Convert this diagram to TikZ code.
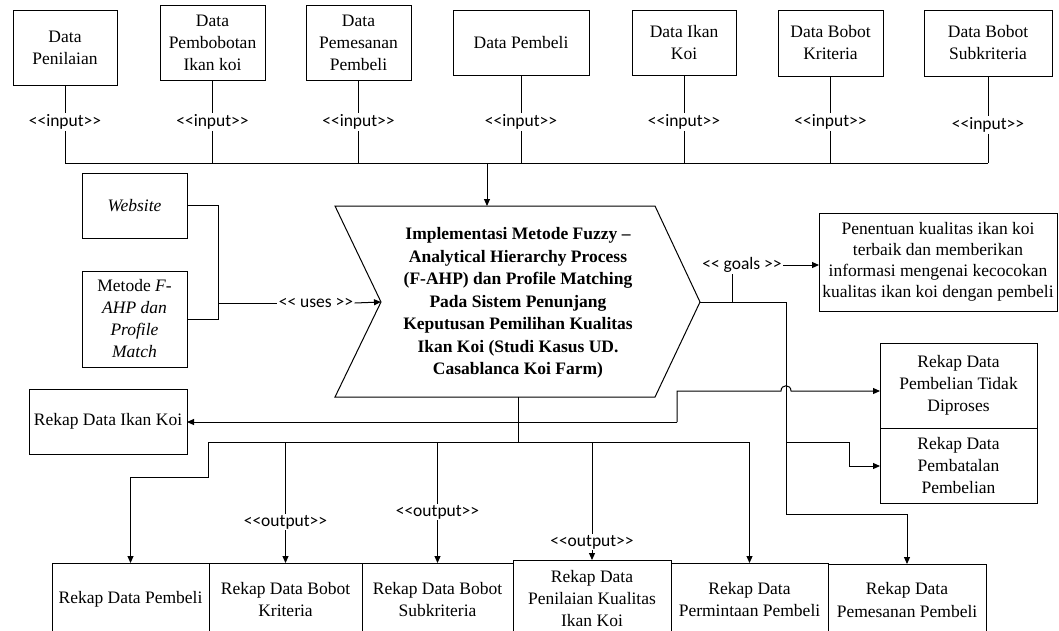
\documentclass[tikz,border=0pt]{standalone}
\usepackage{fontspec}
\setmainfont{Liberation Serif}
\newfontfamily\lblfont{Carlito}
\usetikzlibrary{arrows.meta}
% stereotype label, kerns keep << and >> from turning into guillemets
\newcommand\stereo[1]{<\kern0pt<#1>\kern0pt>}
\begin{document}
\begin{tikzpicture}[x=1pt,y=-1pt,
  line width=1pt,
  box/.style={draw, line width=1pt, align=center, inner sep=0pt, outer sep=0pt,
    font=\fontsize{17.5}{22}\selectfont},
  lbl/.style={inner sep=1.5pt, outer sep=0pt, font=\lblfont\fontsize{17.5}{21}\selectfont},
  arr/.style={-{Triangle[length=7pt,width=6pt]}},
]
\fill[white] (0,0) rectangle (1059,630);
\useasboundingbox (0,0) rectangle (1059,630);

% ---------- input data ----------
\node[box, minimum width=104, minimum height=75] (dPen) at (65,47.5) {Data\\Penilaian};
\node[box, minimum width=105, minimum height=75] (dBob) at (212.5,42.5) {Data\\Pembobotan\\Ikan koi};
\node[box, minimum width=105, minimum height=75] (dPes) at (358.5,42.5) {Data\\Pemesanan\\Pembeli};
\node[box, minimum width=136, minimum height=65] (dBel) at (521,42.5) {Data Pembeli};
\node[box, minimum width=104, minimum height=65] (dIkan) at (684,42.5) {Data Ikan\\Koi};
\node[box, minimum width=105, minimum height=66] (dKri) at (830.5,43) {Data Bobot\\Kriteria};
\node[box, minimum width=128, minimum height=66] (dSub) at (988,43) {Data Bobot\\Subkriteria};

\coordinate (bus) at (0,163);
\foreach \n/\y in {dPen/122,dBob/122,dPes/122,dBel/122,dIkan/122,dKri/122,dSub/125}{
  \node[lbl] (in\n) at (\n.south |- 0,\y) {\stereo{input}};
  \draw (\n.south) -- (in\n.north);
  \draw (in\n.south) -- (in\n.south |- bus);
}
\draw (dPen.south |- bus) -- (dSub.south |- bus);

% ---------- central process ----------
\coordinate (chTL) at (335,206);
\coordinate (chTR) at (655,206);
\coordinate (chR)  at (700,302);
\coordinate (chBR) at (655,397);
\coordinate (chBL) at (335,397);
\coordinate (chN)  at (381,302);
\draw (chTL) -- (chTR) -- (chR) -- (chBR) -- (chBL) -- (chN) -- cycle;
\node[align=center, font=\bfseries\fontsize{17.5}{22.5}\selectfont] (chT) at (518,303)
  {Implementasi Metode Fuzzy –\\Analytical Hierarchy Process\\(F-AHP) dan Profile Matching\\Pada Sistem Penunjang\\Keputusan Pemilihan Kualitas\\Ikan Koi (Studi Kasus UD.\\Casablanca Koi Farm)};

\coordinate (inJ) at (487,163);
\draw[arr] (inJ) -- (inJ |- chTL);

% ---------- uses ----------
\node[box, minimum width=105, minimum height=65] (web) at (134.5,205.5) {\textit{Website}};
\node[box, minimum width=105, minimum height=96] (met) at (134.5,319)
  {Metode \textit{F-}\\\textit{AHP dan}\\\textit{Profile}\\\textit{Match}};
\coordinate (uB) at (218,319);
\coordinate (uJ) at (218,303);
\draw (web.east) -| (uB) -- (met.east);
\node[lbl] (uses) at (316,303) {\stereo{ uses }};
\draw (uJ) -- (uses.west);
\draw[arr] (uses.east) -- (chN);

% ---------- goals ----------
\node[box, minimum width=238, minimum height=98, font=\fontsize{17.5}{21}\selectfont] (goal) at (938,262)
  {Penentuan kualitas ikan koi\\terbaik dan memberikan\\informasi mengenai kecocokan\\kualitas ikan koi dengan pembeli};
\coordinate (gJ) at (732,302);
\node[lbl] (gl) at (742,265) {\stereo{ goals }};
\draw (gJ) -- (gJ |- gl.south);
\draw[arr] (gl.east) -- (goal.west |- gl.east);

% ---------- outputs at the side ----------
\node[box, minimum width=158, minimum height=65] (ikan) at (108,421.5) {Rekap Data Ikan Koi};
\node[box, minimum width=157, minimum height=85] (tidak) at (958.5,385.5) {Rekap Data\\Pembelian Tidak\\Diproses};
\node[box, minimum width=157, minimum height=75] (batal) at (958.5,465.5) {Rekap Data\\Pembatalan\\Pembelian};

\coordinate (kA) at (677,422);
\coordinate (kB) at (677,391);
\draw[arr] (kA) -- (ikan.east |- kA);
\draw[arr] (kA) -- (kB) -- (781,391) .. controls (781,384) and (791,384) .. (791,391) -- (tidak.west |- kB);

% ---------- outputs below ----------
\node[box, minimum width=157, minimum height=73] (rPem) at (130.5,599.5) {Rekap Data Pembeli};
\node[box, minimum width=153, minimum height=73] (rKri) at (285.5,599.5) {Rekap Data Bobot\\Kriteria};
\node[box, minimum width=151, minimum height=73] (rSub) at (437.5,599.5) {Rekap Data Bobot\\Subkriteria};
\node[box, minimum width=158, minimum height=78] (rNil) at (592,599) {Rekap Data\\Penilaian Kualitas\\Ikan Koi};
\node[box, minimum width=157, minimum height=73] (rMin) at (749.5,599.5) {Rekap Data\\Permintaan Pembeli};
\node[box, minimum width=158, minimum height=72] (rPes) at (907,600) {Rekap Data\\Pemesanan Pembeli};

\coordinate (oTop) at (518,397);
\coordinate (oJ) at (518,442);
\coordinate (bL) at (208,442);
\draw (oTop) -- (oJ);
\draw (bL) -- (rMin.north |- oJ);
\draw[arr] (bL) -- (208,477) -| (rPem.north);
\draw[arr] (rMin.north |- oJ) -- (rMin.north);
\foreach \n/\y in {rKri/522,rSub/512,rNil/542}{
  \node[lbl] (out\n) at (\n.north |- 0,\y) {\stereo{output}};
  \draw (\n.north |- oJ) -- (out\n.north);
  \draw[arr] (out\n.south) -- (\n.north);
}

% ---------- right branch ----------
\coordinate (gR) at (786,302);
\coordinate (gD) at (786,514);
\coordinate (gB) at (786,442);
\draw[arr] (chR) -- (gR) -- (gD) -| (rPes.north);
\draw[arr] (gB) -- (849,442) -- (849,466) -- (batal.west |- 0,466);
\end{tikzpicture}
\end{document}
